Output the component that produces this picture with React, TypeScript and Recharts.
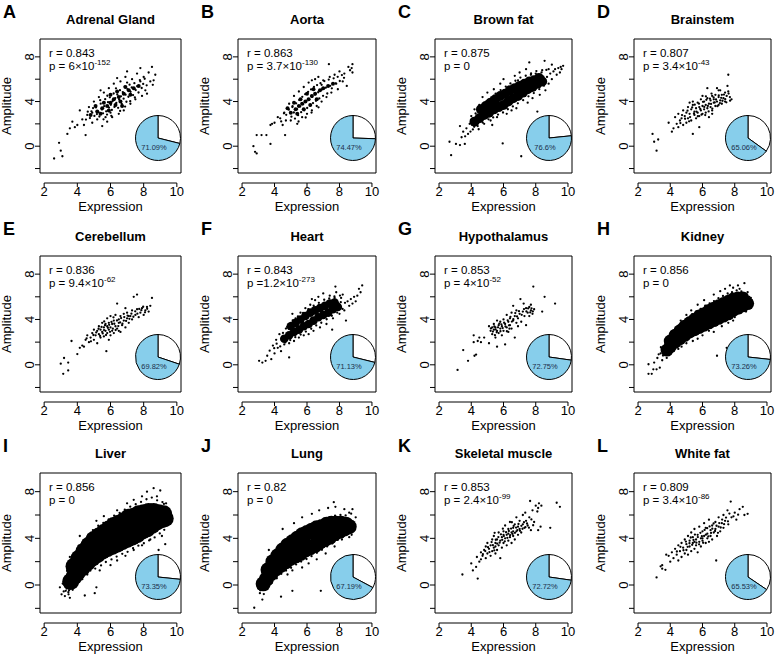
import React from 'react';
import { ScatterChart, Scatter, XAxis, YAxis, ReferenceArea, ReferenceLine, PieChart, Pie, Cell } from 'recharts';

const FONT = '"Liberation Sans", Arial, Helvetica, sans-serif';
const BLUE = '#87CEEB';

// panel texts
const letters = ['A', 'B', 'C', 'D', 'E', 'F', 'G', 'H', 'I', 'J', 'K', 'L'];
const tissues = ['Adrenal Gland', 'Aorta', 'Brown fat', 'Brainstem', 'Cerebellum', 'Heart', 'Hypothalamus', 'Kidney', 'Liver', 'Lung', 'Skeletal muscle', 'White fat'];
const rLabels = ['0.843', '0.863', '0.875', '0.807', '0.836', '0.843', '0.853', '0.856', '0.856', '0.82', '0.853', '0.809'];
const pLabels = ['p = 6×10', 'p = 3.7×10', 'p = 0', 'p = 3.4×10', 'p = 9.4×10', 'p =1.2×10', 'p = 4×10', 'p = 0', 'p = 0', 'p = 0', 'p = 2.4×10', 'p = 3.4×10'];
const pExponents = ['-152', '-130', '', '-43', '-62', '-273', '-52', '', '', '', '-99', '-86'];
const explainedPct = [71.09, 74.47, 76.6, 65.06, 69.82, 71.13, 72.75, 73.26, 73.35, 67.19, 72.72, 65.53];

const xTicks = [2, 4, 6, 8, 10];
const yTicks = [-2, 0, 2, 4, 6, 8];
const yLabelled = [0, 4, 8];

// scatter points [expression, amplitude]
// "mass" arrays stand for the solid, over-plotted centre of the cloud
const adrenalMass = [[4.8,2.8],[5.2,3.1],[5.5,3.4],[5.8,3.6],[6.0,3.9],[6.2,4.2],[6.5,4.4],[6.8,4.7],[7.1,5.0],[7.4,5.2],[5.4,2.9],[5.9,3.2],[6.3,3.7],[6.6,4.0],[5.6,3.9],[6.0,4.6],[6.4,4.9],[6.9,5.3],[7.2,4.6],[5.1,3.6],[7.7,5.4],[6.7,3.6]];
const adrenalDots = [[2.6,-1.1],[2.9,0.3],[3.0,-0.4],[3.1,-0.9],[3.4,1.1],[3.55,1.6],[3.7,2.2],[3.85,1.7],[4.0,1.9],[4.15,3.2],[4.3,2.4],[4.4,1.9],[4.5,1.0],[4.6,2.8],[4.7,3.5],[4.9,2.1],[5.0,4.0],[5.2,2.4],[5.3,4.4],[5.5,1.8],[5.6,4.8],[5.8,2.2],[5.9,5.2],[6.1,2.6],[6.2,5.6],[6.4,6.1],[6.5,2.9],[6.6,5.8],[6.8,3.2],[6.9,6.2],[7.0,6.7],[7.2,3.8],[7.3,6.0],[7.5,4.2],[7.6,6.5],[7.8,7.0],[7.9,4.5],[8.0,6.2],[8.1,5.0],[8.2,4.7],[8.3,6.6],[8.4,5.8],[8.5,7.1],[8.6,5.9],[8.7,6.4],[8.55,5.5],[7.0,5.7],[6.0,3.0],[5.4,5.0],[7.8,5.8],[4.9,3.0],[5.7,2.6],
  [4.85,3.12],[5.03,2.71],[5.12,3.47],[5.27,3.05],[5.33,2.66],[5.41,3.81],[5.48,3.29],[5.55,2.94],[5.62,3.58],[5.68,4.21],[5.74,3.12],[5.79,2.83],[5.85,3.94],[5.91,3.46],[5.96,4.38],[6.02,3.71],[6.08,3.25],[6.13,4.05],[6.19,4.72],[6.24,3.52],[6.29,4.31],[6.35,3.87],[6.41,4.63],[6.46,3.44],[6.52,4.18],[6.57,5.02],[6.63,4.47],[6.68,3.79],[6.74,4.85],[6.79,4.26],[6.85,5.33],[6.91,4.61],[6.96,3.98],[7.02,5.12],[7.08,4.43],[7.15,5.51],[7.21,4.87],[7.28,5.26],[7.36,4.58],[7.44,5.64],[7.52,5.03],[7.61,5.37],[7.69,4.81],[7.77,5.92],[7.88,5.21],[7.97,5.58],[8.06,6.04],[8.18,5.45],[4.52,2.38],[4.63,3.09],[4.76,2.52],[4.95,3.41],[5.18,2.88],[5.38,4.12],[5.58,2.41],[5.81,4.52],[6.05,2.72],[6.33,5.18],[6.58,3.16],[6.88,3.55],[7.19,4.03],[7.47,4.36]];

const aortaMass = [[5.0,3.0],[5.3,3.3],[5.5,3.6],[5.7,3.8],[5.9,4.0],[6.1,4.2],[6.3,4.5],[6.5,4.7],[6.8,5.0],[7.0,5.2],[5.4,2.9],[5.8,3.3],[6.2,3.7],[6.6,4.2],[5.6,4.2],[6.0,4.7],[6.4,5.1],[7.3,5.4],[4.8,3.4],[5.2,3.9],[7.6,5.6]];
const aortaDots = [[2.7,0],[2.8,-0.5],[2.9,-0.65],[2.9,1.0],[3.2,1.0],[3.5,1.0],[3.75,1.9],[3.85,2.0],[3.75,0.2],[4.0,2.1],[4.2,2.6],[4.35,2.5],[4.5,1.9],[4.65,1.0],[4.6,3.0],[4.7,2.3],[4.9,3.8],[5.0,2.3],[5.2,4.5],[5.4,2.0],[5.5,4.9],[5.7,2.6],[5.8,5.3],[6.0,2.9],[6.1,5.7],[6.3,3.2],[6.5,6.0],[6.6,3.6],[6.7,6.2],[6.9,4.0],[7.0,5.9],[7.2,4.4],[7.35,7.35],[7.4,6.2],[7.5,4.8],[7.7,6.4],[7.9,5.1],[8.0,6.7],[8.2,5.8],[8.3,6.5],[8.45,5.4],[8.55,7.1],[8.65,6.8],[8.8,7.35],[8.75,7.0],[8.8,6.6],[6.3,5.9],[7.8,5.6],[5.1,3.5],[6.9,5.5],
  [4.72,2.81],[4.88,3.27],[5.04,2.64],[5.11,3.58],[5.19,3.02],[5.26,2.47],[5.33,3.84],[5.39,3.31],[5.45,2.78],[5.52,4.13],[5.58,3.56],[5.64,3.05],[5.71,4.42],[5.77,3.77],[5.83,3.21],[5.89,4.66],[5.95,3.98],[6.01,3.42],[6.07,4.87],[6.13,4.19],[6.19,3.64],[6.25,5.08],[6.31,4.41],[6.37,3.86],[6.43,5.31],[6.49,4.62],[6.55,4.07],[6.62,5.47],[6.69,4.83],[6.76,4.28],[6.83,5.64],[6.91,5.06],[6.99,4.51],[7.07,5.83],[7.16,5.24],[7.25,4.72],[7.34,5.97],[7.43,5.41],[7.53,5.18],[7.64,6.08],[7.76,5.62],[7.89,6.21],[8.02,5.84],[8.15,6.37],[8.28,6.12],[4.41,2.22],[4.58,2.94],[5.48,2.21],[5.92,2.57],[6.28,3.01],[6.71,3.48]];

const brownFatMass = [[4.2,2.2],[4.5,2.5],[4.8,2.8],[5.1,3.0],[5.4,3.3],[5.7,3.5],[6.0,3.7],[6.3,4.0],[6.6,4.3],[6.9,4.5],[7.2,4.8],[7.5,5.1],[7.8,5.3],[8.1,5.6],[8.4,5.8],[4.6,3.3],[4.9,3.6],[5.2,3.9],[5.5,4.2],[5.8,4.5],[6.1,4.7],[6.4,5.0],[6.7,5.2],[7.0,5.4],[7.3,5.6],[7.6,5.8],[7.9,5.9],[8.2,6.1]];
const brownFatDots = [[2.65,0.4],[2.75,-0.8],[3.05,0.2],[3.3,0.1],[3.6,0.2],[3.3,1.8],[3.4,0.8],[3.5,1.3],[3.7,1.6],[3.9,2.0],[3.8,1.1],[4.0,2.7],[4.1,1.5],[4.2,3.3],[4.4,1.8],[4.5,3.7],[4.7,4.4],[4.8,2.0],[5.0,4.8],[5.2,2.3],[5.4,5.1],[5.6,2.6],[5.8,5.6],[5.95,0.25],[6.0,6.0],[6.2,2.9],[6.5,3.2],[6.7,6.3],[6.8,3.4],[7.0,6.6],[7.1,-0.9],[7.4,6.9],[7.5,3.9],[7.6,7.5],[7.8,4.3],[8.0,6.5],[8.1,3.1],[8.25,4.6],[8.4,6.8],[8.55,7.65],[8.6,5.0],[8.7,6.2],[8.8,6.9],[8.9,6.5],[9.0,7.3],[9.1,6.7],[9.2,6.9],[9.3,6.4],[9.4,7.0],[9.5,6.6],[9.6,6.9],[9.7,7.2],[9.55,7.1],[8.8,5.6],[9.0,6.0],[5.3,1.9],[6.9,5.9],[7.7,6.4],
  [4.05,2.21],[4.18,1.74],[4.27,2.93],[4.36,2.05],[4.62,3.61],[4.71,2.12],[4.93,4.02],[5.07,2.41],[5.24,4.38],[5.36,2.58],[5.51,4.71],[5.66,2.83],[5.82,5.03],[5.97,3.02],[6.14,5.34],[6.27,3.31],[6.43,5.62],[6.58,3.56],[6.74,5.86],[6.89,3.84],[7.05,6.15],[7.22,4.12],[7.38,6.31],[7.55,4.47],[7.71,6.52],[7.88,4.76],[8.04,6.73],[8.22,5.11],[8.36,6.61],[8.51,5.42],[8.66,6.83],[8.47,6.22],[3.95,1.31],[3.62,0.88],[4.46,1.52]];

const brainstemDots = [[2.9,1.1],[3.0,0.4],[3.25,0.6],[3.15,-0.4],[3.9,2.1],[4.1,1.3],[4.2,1.6],[4.3,2.6],[4.4,2.0],[4.5,1.7],[4.5,2.9],[4.6,2.3],[4.7,2.5],[4.8,1.9],[4.8,3.2],[4.9,2.7],[5.0,2.1],[5.0,3.0],[5.1,3.5],[5.1,2.5],[5.2,2.9],[5.3,3.3],[5.3,2.3],[5.4,1.1],[5.4,3.7],[5.5,2.8],[5.5,3.1],[5.6,3.4],[5.6,2.5],[5.7,3.9],[5.7,3.0],[5.8,1.7],[5.8,3.5],[5.8,2.7],[5.9,3.2],[5.9,4.2],[6.0,3.6],[6.0,2.9],[6.1,3.3],[6.1,4.0],[6.2,3.7],[6.2,3.0],[6.3,4.3],[6.3,3.4],[6.4,3.8],[6.4,2.6],[6.5,4.1],[6.5,3.5],[6.6,4.5],[6.6,3.2],[6.7,3.9],[6.7,4.2],[6.8,3.6],[6.8,4.6],[6.9,4.0],[6.9,5.2],[7.0,3.7],[7.0,4.4],[7.1,4.1],[7.1,5.0],[7.2,4.6],[7.2,3.8],[7.3,4.3],[7.4,4.8],[7.4,4.0],[7.5,4.5],[7.55,5.4],[7.6,6.4],[7.7,4.4],[7.8,4.2],[7.6,4.9],[6.3,5.2],[5.4,4.0],[6.0,4.5],[5.2,3.9],[6.6,2.9],[7.0,5.0],
  [4.63,2.07],[4.92,2.46],[5.07,3.18],[5.23,2.61],[5.36,3.47],[5.47,2.93],[5.52,3.72],[5.63,3.09],[5.71,2.68],[5.78,3.81],[5.86,3.33],[5.94,2.82],[6.03,3.97],[6.11,3.52],[6.17,2.79],[6.24,4.15],[6.33,3.61],[6.38,3.11],[6.46,4.26],[6.53,3.79],[6.61,3.37],[6.69,4.37],[6.76,3.92],[6.84,4.18],[6.93,3.58],[7.01,4.56],[7.08,3.86],[7.16,4.33],[7.24,4.07],[7.33,4.62],[7.41,4.21],[7.48,3.93],[7.62,4.71],[7.71,4.08],[5.17,2.23],[4.73,2.79],[6.56,4.71],[6.21,4.47]];

const cerebellumDots = [[3.0,0.1],[3.15,-0.8],[3.2,0.6],[3.45,0.2],[3.45,-0.5],[3.65,2.1],[4.0,0.95],[4.15,1.5],[4.3,1.7],[4.4,1.6],[4.5,2.2],[4.6,2.6],[4.7,2.0],[4.8,2.4],[4.9,2.8],[5.0,2.2],[5.0,3.1],[5.1,2.6],[5.2,1.9],[5.2,3.0],[5.3,2.7],[5.3,3.4],[5.4,2.4],[5.4,3.1],[5.5,2.9],[5.5,3.7],[5.6,2.5],[5.6,3.3],[5.7,3.0],[5.7,3.6],[5.75,1.2],[5.8,2.8],[5.8,3.4],[5.8,4.1],[5.9,3.1],[5.9,3.7],[6.0,2.6],[6.0,3.3],[6.0,4.3],[6.1,3.0],[6.1,3.6],[6.2,3.9],[6.2,2.8],[6.3,3.4],[6.3,4.4],[6.4,5.4],[6.4,3.2],[6.5,3.7],[6.5,4.0],[6.6,2.9],[6.6,4.3],[6.7,3.5],[6.8,3.9],[6.8,4.5],[6.9,3.3],[7.0,4.1],[7.0,4.6],[7.1,3.7],[7.2,4.3],[7.3,4.8],[7.3,4.0],[7.4,6.0],[7.5,4.4],[7.6,6.2],[7.6,4.9],[7.7,4.2],[7.8,4.6],[7.9,5.0],[8.0,4.4],[8.1,4.8],[8.2,5.1],[8.3,4.7],[8.4,5.2],[8.5,5.9],[6.9,5.0],[5.9,2.2],[6.5,3.0],[7.1,4.3],
  [4.56,2.34],[4.82,2.07],[4.97,2.63],[5.14,2.86],[5.28,3.18],[5.37,2.55],[5.46,3.34],[5.53,2.77],[5.61,3.06],[5.67,3.49],[5.73,2.63],[5.84,3.27],[5.92,3.53],[5.97,2.91],[6.06,3.78],[6.14,3.19],[6.23,3.62],[6.31,3.07],[6.39,3.91],[6.47,3.42],[6.58,3.74],[6.64,4.12],[6.72,3.63],[6.83,4.21],[6.94,3.87],[7.03,4.34],[7.14,4.06],[7.26,4.51],[7.38,4.24],[7.49,4.72],[7.62,4.51],[7.73,4.93],[7.86,4.82],[7.97,5.12],[8.08,4.63],[8.21,4.94],[6.18,4.19],[5.62,3.83]];

const heartMass = [[4.6,2.3],[4.9,2.6],[5.2,2.9],[5.5,3.1],[5.8,3.4],[6.1,3.6],[6.4,3.9],[6.7,4.2],[7.0,4.4],[7.3,4.6],[7.6,4.9],[7.9,5.1],[5.0,3.4],[5.3,3.7],[5.6,4.0],[5.9,4.3],[6.2,4.6],[6.5,4.8],[6.8,5.0],[7.1,5.2],[7.4,5.4],[7.7,5.5]];
const heartDots = [[3.05,0.35],[3.25,0.2],[3.45,0.35],[3.55,0.8],[3.7,1.25],[3.8,0.5],[3.9,1.7],[4.0,1.0],[4.1,2.2],[4.2,1.5],[4.3,2.7],[4.4,1.2],[4.6,1.8],[4.7,3.2],[4.9,0.65],[4.9,1.9],[5.0,3.7],[5.2,2.1],[5.3,4.1],[5.5,2.4],[5.6,4.6],[5.8,2.6],[5.9,5.0],[6.1,2.7],[6.2,5.3],[6.4,3.0],[6.5,5.7],[6.7,6.0],[6.8,3.3],[7.0,6.3],[7.2,3.6],[7.4,6.1],[7.55,3.1],[7.6,4.1],[7.75,6.9],[7.8,6.4],[8.0,4.5],[8.1,5.9],[8.2,6.2],[8.3,4.8],[8.4,3.9],[8.5,5.6],[8.6,5.2],[8.7,5.8],[8.8,5.4],[8.9,6.0],[9.0,5.6],[9.1,6.1],[9.2,6.7],[9.3,6.4],[9.4,7.0],[8.0,5.2],[7.7,5.9],[6.3,5.8],[5.1,4.5],
  [4.35,1.62],[4.52,2.81],[4.66,1.97],[4.78,3.33],[4.97,2.18],[5.12,3.92],[5.28,2.44],[5.44,4.27],[5.61,2.67],[5.76,4.58],[5.93,2.93],[6.08,4.91],[6.26,3.18],[6.41,5.21],[6.57,3.47],[6.73,5.47],[6.88,3.71],[7.06,5.74],[7.21,4.02],[7.37,5.86],[7.53,4.33],[7.69,6.03],[7.86,4.61],[8.03,6.11],[8.19,4.93],[8.34,5.47],[8.08,5.53],[7.93,5.42],[3.98,1.47],[4.13,1.86]];

const hypothalamusDots = [[3.15,-0.45],[3.5,1.3],[3.8,0.35],[4.2,0.8],[4.3,0.9],[4.15,2.0],[4.15,2.6],[4.4,2.1],[4.6,2.0],[4.5,2.4],[4.8,2.4],[5.1,1.9],[5.1,3.4],[5.2,3.0],[5.3,3.3],[5.3,2.7],[5.4,3.6],[5.4,3.1],[5.5,2.4],[5.5,3.3],[5.6,1.6],[5.6,3.0],[5.7,3.5],[5.7,2.8],[5.8,3.2],[5.8,3.8],[5.9,2.6],[5.9,3.4],[6.0,3.0],[6.0,4.0],[6.1,3.6],[6.1,1.8],[6.2,3.3],[6.2,4.4],[6.3,3.8],[6.3,2.9],[6.4,3.5],[6.4,4.1],[6.5,3.2],[6.5,4.6],[6.6,3.9],[6.7,4.3],[6.7,2.4],[6.8,3.7],[6.8,4.8],[6.9,4.1],[7.0,4.5],[7.05,5.8],[7.1,3.8],[7.2,4.7],[7.25,5.4],[7.3,4.3],[7.4,5.0],[7.4,3.5],[7.5,4.6],[7.6,5.1],[7.6,4.3],[7.7,4.8],[7.7,5.3],[7.8,4.5],[7.85,6.9],[7.9,4.9],[8.4,4.7],[8.55,6.0],[9.2,5.4],[6.6,5.2],[5.6,3.9],[6.9,3.4],
  [5.22,3.21],[5.34,2.93],[5.43,3.38],[5.51,3.12],[5.58,2.87],[5.66,3.31],[5.74,3.64],[5.81,2.96],[5.87,3.57],[5.95,3.24],[6.04,3.71],[6.12,3.38],[6.21,2.96],[6.26,3.92],[6.34,3.48],[6.43,4.23],[6.52,3.81],[6.61,4.02],[6.73,4.56],[6.84,4.27],[6.96,4.73],[7.13,4.41],[7.27,4.92],[7.42,4.71],[7.53,4.97],[7.66,4.62],[7.74,4.98],[7.82,4.71],[5.47,2.61],[6.37,3.19]];

const kidneyMass = [[3.8,1.3],[4.0,1.6],[4.3,2.0],[4.6,2.3],[4.9,2.6],[5.2,2.9],[5.5,3.1],[5.8,3.3],[6.1,3.5],[6.4,3.7],[6.7,3.9],[7.0,4.1],[7.3,4.3],[7.6,4.5],[7.9,4.8],[8.2,5.0],[8.5,5.2],[8.8,5.4],[4.0,2.1],[4.3,2.6],[4.6,3.0],[4.9,3.4],[5.2,3.7],[5.5,4.0],[5.8,4.3],[6.1,4.5],[6.4,4.8],[6.7,5.0],[7.0,5.2],[7.3,5.4],[7.6,5.6],[7.9,5.8],[8.2,5.9],[8.5,5.9]];
const kidneyDots = [[2.65,-0.8],[2.85,-0.8],[2.95,-0.4],[3.15,-0.4],[3.35,-0.25],[2.65,0.05],[3.0,0.2],[3.2,0.6],[3.4,1.0],[3.5,0.4],[3.6,1.4],[3.7,1.9],[3.85,2.0],[3.9,0.9],[4.1,2.6],[4.2,1.2],[4.4,3.3],[4.5,1.4],[4.65,3.9],[4.7,1.6],[5.0,4.4],[5.0,1.9],[5.3,4.8],[5.4,2.1],[5.7,5.3],[5.7,2.3],[6.1,5.7],[6.0,2.6],[6.4,3.0],[6.7,6.2],[6.7,2.9],[6.9,0.8],[7.1,6.5],[7.2,3.4],[7.5,1.5],[7.6,3.7],[7.7,7.0],[7.9,6.8],[8.0,4.2],[8.2,7.0],[8.4,4.6],[8.6,7.2],[8.6,5.0],[8.8,6.4],[8.9,6.0],[9.0,5.9],[8.8,5.3],[8.3,6.7],[7.4,6.7],[7.9,3.9],[8.7,4.7],
  [3.55,0.82],[3.62,1.58],[3.78,0.61],[3.84,2.31],[3.97,1.12],[4.08,2.92],[4.23,1.36],[4.31,3.18],[4.47,1.73],[4.56,3.51],[4.72,2.02],[4.83,3.82],[4.96,2.21],[5.09,4.13],[5.22,2.47],[5.36,4.46],[5.48,2.69],[5.61,4.72],[5.74,2.86],[5.88,4.94],[6.02,3.08],[6.17,5.23],[6.29,3.27],[6.44,5.41],[6.58,3.46],[6.71,5.62],[6.86,3.64],[6.99,5.88],[7.13,3.83],[7.27,6.07],[7.41,4.05],[7.56,6.29],[7.68,4.27],[7.83,6.41],[7.97,4.49],[8.12,6.56],[8.26,4.73],[8.41,6.48],[8.55,4.95],[8.69,5.72],[8.92,5.58],[9.05,5.71],[3.42,1.55],[3.28,0.92]];

const liverMass = [[3.6,0.3],[3.8,0.7],[4.0,1.1],[4.3,1.5],[4.6,1.9],[4.9,2.3],[5.2,2.6],[5.5,2.9],[5.8,3.1],[6.1,3.3],[6.4,3.5],[6.7,3.7],[7.0,3.9],[7.3,4.1],[7.6,4.3],[7.9,4.6],[8.2,4.8],[8.5,5.1],[8.8,5.4],[9.1,5.6],[9.3,5.7],[3.8,1.6],[4.1,2.3],[4.4,2.9],[4.7,3.4],[5.0,3.9],[5.3,4.2],[5.6,4.5],[5.9,4.8],[6.2,5.1],[6.5,5.3],[6.8,5.5],[7.1,5.8],[7.4,5.9],[7.7,6.1],[8.0,6.2],[8.3,6.3],[8.6,6.3],[8.9,6.2],[9.2,6.1],[3.9,1.4],[4.5,2.4],[5.2,3.3],[5.9,4.0],[6.6,4.6],[7.3,5.0],[8.0,5.4],[8.7,5.8],[9.2,5.9]];
const liverDots = [[2.95,-0.2],[3.05,-0.8],[3.25,-0.95],[3.55,-1.1],[3.2,0.5],[3.3,-0.5],[3.55,2.4],[3.7,1.9],[4.15,4.2],[4.3,0.5],[4.35,0.7],[4.45,-0.9],[4.6,0.9],[5.05,-0.7],[5.15,-0.2],[5.15,5.5],[5.35,1.25],[5.6,5.9],[6.0,1.7],[6.4,6.4],[6.4,2.1],[6.9,2.5],[7.0,7.0],[7.4,7.3],[7.4,3.0],[7.9,3.4],[7.9,7.6],[8.2,8.0],[8.4,3.9],[8.6,8.3],[8.8,7.6],[9.0,8.1],[9.1,4.2],[9.3,3.5],[9.4,6.6],[9.4,5.1],[9.5,5.8],[9.35,7.0],[8.9,3.0],[9.0,1.7],
  [3.12,0.12],[3.38,1.21],[3.46,-0.62],[3.61,1.95],[3.72,-0.41],[3.89,2.71],[3.96,0.18],[4.09,3.38],[4.21,0.49],[4.38,3.82],[4.51,0.92],[4.67,4.29],[4.79,1.24],[4.94,4.71],[5.08,1.41],[5.26,5.08],[5.43,1.68],[5.57,5.33],[5.72,1.97],[5.89,5.62],[6.06,2.19],[6.22,5.94],[6.37,2.44],[6.55,6.18],[6.71,2.67],[6.86,6.46],[7.03,2.84],[7.19,6.71],[7.36,3.16],[7.52,6.93],[7.68,3.37],[7.84,7.12],[8.01,3.58],[8.17,7.35],[8.33,3.82],[8.49,7.49],[8.66,4.08],[8.81,7.26],[8.97,4.42],[9.13,7.11],[9.24,4.73],[9.41,6.18],[9.48,5.45],[9.22,6.95],
  [3.35,-0.3],[3.42,0.05],[3.28,-0.15],[3.5,-0.45],[3.38,0.35],[3.6,-0.2],[3.47,-0.8],[3.18,-0.55],[3.52,0.22],[3.66,0.08]];

const lungMass = [[3.3,0.1],[3.5,0.5],[3.8,1.0],[4.1,1.4],[4.4,1.7],[4.7,2.0],[5.0,2.3],[5.3,2.5],[5.6,2.7],[5.9,3.0],[6.2,3.2],[6.5,3.4],[6.8,3.7],[7.1,3.9],[7.4,4.1],[7.7,4.4],[8.0,4.6],[8.3,4.8],[8.6,5.0],[3.6,1.3],[3.9,2.0],[4.2,2.5],[4.5,3.0],[4.8,3.4],[5.1,3.7],[5.4,4.0],[5.7,4.3],[6.0,4.5],[6.3,4.7],[6.6,4.9],[6.9,5.0],[7.2,5.2],[7.5,5.3],[7.8,5.3],[8.1,5.3],[8.4,5.2],
  [4.3,2.2],[5.0,3.0],[5.8,3.6],[6.6,4.2],[7.4,4.7],[8.2,5.0]];
const lungDots = [[2.75,-1.95],[3.0,-0.3],[3.1,-0.7],[3.25,-1.25],[3.2,0.6],[3.4,-0.4],[3.65,3.0],[3.6,-0.1],[4.1,0.7],[4.4,-1.0],[4.5,4.8],[4.8,0.9],[5.1,1.25],[5.1,-0.5],[5.2,5.3],[5.7,5.8],[5.7,1.5],[6.1,1.85],[6.3,6.1],[6.75,6.4],[6.6,2.2],[6.85,-0.5],[7.15,2.7],[7.3,6.6],[7.65,7.1],[7.75,6.7],[7.7,3.3],[8.15,3.9],[8.3,6.5],[8.6,4.1],[8.75,4.3],[8.8,6.5],[9.0,5.8],[8.9,5.2],[8.6,6.2],
  [3.05,-0.12],[3.16,0.34],[3.34,-0.78],[3.42,1.02],[3.55,-0.36],[3.71,1.78],[3.83,0.18],[3.97,2.44],[4.14,0.58],[4.27,3.07],[4.42,0.96],[4.56,3.51],[4.71,1.24],[4.86,3.88],[5.02,1.47],[5.18,4.23],[5.33,1.76],[5.49,4.54],[5.64,2.01],[5.81,4.82],[5.97,2.23],[6.12,5.13],[6.28,2.47],[6.44,5.34],[6.61,2.76],[6.77,5.52],[6.92,3.02],[7.09,5.67],[7.24,3.31],[7.41,5.82],[7.57,3.58],[7.73,5.94],[7.89,3.86],[8.06,6.01],[8.22,4.14],[8.38,5.96],[8.53,4.52],[8.67,5.61],[8.84,5.42],[8.72,6.11],
  [3.12,-0.45],[3.22,-0.05],[3.28,0.28],[3.15,-0.28]];

const skeletalDots = [[3.45,0.9],[4.0,1.85],[4.1,1.25],[4.3,1.55],[4.35,2.4],[4.4,0.55],[4.5,2.0],[4.6,2.2],[4.6,2.8],[4.7,2.5],[4.8,3.0],[4.9,2.3],[4.9,3.3],[5.0,2.7],[5.0,3.6],[5.1,3.1],[5.2,2.5],[5.2,3.4],[5.3,3.9],[5.3,2.9],[5.4,3.2],[5.4,4.2],[5.5,3.6],[5.5,2.7],[5.6,3.0],[5.6,3.9],[5.7,4.5],[5.7,3.4],[5.8,2.3],[5.8,3.8],[5.9,4.1],[5.9,3.2],[6.0,4.6],[6.0,3.6],[6.1,4.0],[6.1,5.1],[6.2,3.4],[6.2,4.3],[6.3,4.8],[6.3,3.8],[6.4,4.1],[6.4,5.4],[6.5,4.5],[6.5,3.6],[6.6,4.9],[6.6,4.2],[6.7,3.9],[6.7,5.2],[6.8,4.6],[6.8,5.8],[6.9,4.3],[6.9,5.0],[7.0,4.8],[7.0,5.5],[7.1,4.5],[7.2,5.2],[7.2,6.0],[7.3,4.9],[7.35,6.2],[7.4,5.5],[7.5,5.1],[7.6,5.8],[7.65,7.2],[7.7,4.7],[7.8,6.4],[7.9,5.4],[8.0,6.8],[8.1,6.3],[8.15,6.6],[8.15,4.7],[8.2,7.0],[8.35,6.8],[8.3,5.0],[8.9,4.9],[9.3,7.05],[9.5,6.7],[6.0,4.3],[6.3,4.4],[5.5,3.3],[6.6,4.6],
  [4.72,2.64],[4.87,2.91],[5.04,3.24],[5.13,2.82],[5.26,3.68],[5.34,3.41],[5.43,2.97],[5.52,3.88],[5.61,3.54],[5.68,4.11],[5.76,3.63],[5.84,4.34],[5.92,3.87],[6.02,4.19],[6.08,3.74],[6.16,4.52],[6.24,4.04],[6.33,4.63],[6.41,4.27],[6.47,4.84],[6.56,4.38],[6.63,5.06],[6.71,4.47],[6.78,4.92],[6.86,4.71],[6.93,5.23],[7.02,4.64],[7.11,5.07],[7.18,4.82],[7.27,5.38],[7.36,4.96],[7.46,5.27],[7.58,4.91],[7.73,5.62],[7.84,5.12],[5.96,4.83],[6.52,5.38],[5.45,4.47]];

const whiteFatDots = [[3.15,0.65],[3.4,1.6],[3.5,1.7],[3.5,1.4],[3.7,1.3],[3.75,2.6],[3.9,2.5],[4.0,2.0],[4.1,2.8],[4.2,2.3],[4.3,3.1],[4.4,2.6],[4.5,3.4],[4.5,2.1],[4.6,2.9],[4.7,3.6],[4.7,2.4],[4.8,3.2],[4.9,2.7],[4.9,3.9],[5.0,3.0],[5.0,3.5],[5.1,4.2],[5.1,2.6],[5.2,3.3],[5.2,3.8],[5.3,4.5],[5.3,2.9],[5.4,3.6],[5.4,4.1],[5.5,3.1],[5.5,4.8],[5.6,3.9],[5.6,3.4],[5.7,4.3],[5.7,2.8],[5.8,3.7],[5.8,5.0],[5.9,4.0],[5.9,3.3],[6.0,4.6],[6.0,3.8],[6.1,4.2],[6.1,5.3],[6.2,3.6],[6.2,4.9],[6.3,4.4],[6.3,4.0],[6.4,5.6],[6.4,3.7],[6.5,4.7],[6.5,4.2],[6.6,5.1],[6.6,3.9],[6.7,4.5],[6.8,5.4],[6.8,4.8],[6.85,2.1],[6.9,4.2],[7.0,5.0],[7.0,5.8],[7.1,4.6],[7.2,5.3],[7.3,6.0],[7.3,4.9],[7.4,5.5],[7.55,6.4],[7.6,5.2],[7.75,7.15],[7.8,5.8],[8.0,6.2],[8.1,5.6],[8.3,6.5],[8.5,6.7],[8.6,6.0],[8.8,6.1],[6.0,4.0],[5.5,3.7],
  [4.41,2.87],[4.63,3.27],[4.82,2.98],[4.97,3.72],[5.08,3.27],[5.19,3.58],[5.27,4.07],[5.36,3.44],[5.44,3.86],[5.53,4.32],[5.62,3.63],[5.71,4.11],[5.79,3.49],[5.87,4.47],[5.96,4.18],[6.04,3.62],[6.13,4.72],[6.21,4.31],[6.29,4.87],[6.36,4.16],[6.44,5.02],[6.53,4.46],[6.61,4.83],[6.69,5.27],[6.78,4.63],[6.87,5.08],[6.96,4.47],[7.04,5.31],[7.13,4.93],[7.22,5.61],[7.34,5.21],[7.46,5.78],[7.58,5.46],[7.67,6.12],[7.92,5.89],[8.21,6.03]];

const panelDots = [adrenalDots, aortaDots, brownFatDots, brainstemDots, cerebellumDots, heartDots, hypothalamusDots, kidneyDots, liverDots, lungDots, skeletalDots, whiteFatDots];
const panelMass = [adrenalMass, aortaMass, brownFatMass, [], [], heartMass, [], kidneyMass, liverMass, lungMass, [], []];
const massRadius = [2, 2, 5, 0, 0, 4.3, 0, 6.5, 8.5, 7.5, 0, 0];

// layout of the plot boxes
const colBoxLeft = [40, 238, 435, 634];
const colBoxWidth = [141, 138, 137, 137];
const rowBoxTop = [39, 256, 473];
const rowBoxHeight = [134, 136, 140];
const X_DOMAIN = [1.75, 10.25];
const Y_DOMAIN = [-2.4, 9.6];

const toXY = (pts) => pts.map(([x, y]) => ({ x, y }));

const XTick = ({ x, y, payload }) => (
  <g>
    <line x1={x} x2={x} y1={y + 10} y2={y + 14} stroke="#000" />
    <text x={x} y={y + 23} textAnchor="middle" fontSize={13} fontFamily={FONT} fill="#000">{payload.value}</text>
  </g>
);

const YTick = ({ x, y, payload }) =>
  yLabelled.includes(payload.value) ? (
    <text x={x - 1} y={y} transform={`rotate(-90 ${x - 1} ${y})`} textAnchor="middle" fontSize={13} fontFamily={FONT} fill="#000">{payload.value}</text>
  ) : null;

function Panel({ i }) {
  const col = i % 4;
  const row = Math.floor(i / 4);
  const boxL = colBoxLeft[col];
  const boxW = colBoxWidth[col];
  const boxT = rowBoxTop[row];
  const boxH = rowBoxHeight[row];
  const ML = 40, MT = 40, MB = 46, MR = 12;
  const pieCx = boxL + boxW - 23;
  const pieCy = boxT + boxH * 0.74;
  const pct = explainedPct[i];
  const pieData = [{ name: 'other', value: 100 - pct }, { name: 'explained', value: pct }];
  const r = massRadius[i];

  return (
    <>
      <div style={{ position: 'absolute', left: boxL - 37, top: boxT - 36, fontSize: 18, fontWeight: 'bold', lineHeight: '18px' }}>{letters[i]}</div>
      <div style={{ position: 'absolute', left: boxL, width: boxW, top: boxT - 26, textAlign: 'center', fontSize: 13, fontWeight: 'bold', lineHeight: '14px' }}>{tissues[i]}</div>
      <div style={{ position: 'absolute', left: boxL - ML, top: boxT - MT }}>
        <ScatterChart width={ML + boxW + MR} height={MT + boxH + MB} margin={{ top: MT, right: MR, bottom: 0, left: 10 }}>
          <XAxis dataKey="x" type="number" domain={X_DOMAIN} allowDataOverflow ticks={xTicks} interval={0}
            tickSize={0} tickMargin={0} axisLine={false} tickLine={false} tick={<XTick />} height={MB}
            label={(props) => {
              const vb = props.viewBox;
              return <text x={vb.x + vb.width / 2} y={vb.y + 38} textAnchor="middle" fontSize={13} fontFamily={FONT} fill="#000">Expression</text>;
            }} />
          <YAxis dataKey="y" type="number" domain={Y_DOMAIN} allowDataOverflow ticks={yTicks} interval={0}
            width={30} tickSize={5} tickMargin={0} axisLine={false} tickLine={{ stroke: '#000' }} tick={<YTick />}
            label={(props) => {
              const vb = props.viewBox;
              const cx = vb.x + 1;
              const cy = vb.y + vb.height / 2;
              return <text x={cx} y={cy} transform={`rotate(-90 ${cx} ${cy})`} textAnchor="middle" fontSize={13} fontFamily={FONT} fill="#000">Amplitude</text>;
            }} />
          <ReferenceArea x1={X_DOMAIN[0]} x2={X_DOMAIN[1]} y1={Y_DOMAIN[0]} y2={Y_DOMAIN[1]} fill="none" stroke="#000" strokeWidth={1} ifOverflow="visible" />
          <ReferenceLine segment={[{ x: 2, y: Y_DOMAIN[0] }, { x: 10, y: Y_DOMAIN[0] }]} ifOverflow="visible"
            shape={(p) => <line x1={p.x1} y1={p.y1 + 10} x2={p.x2} y2={p.y2 + 10} stroke="#000" strokeWidth={1} />} />
          {r > 0 && (
            <Scatter data={toXY(panelMass[i])} isAnimationActive={false}
              shape={(p) => <circle cx={p.cx} cy={p.cy} r={r} fill="#000" />} />
          )}
          <Scatter data={toXY(panelDots[i])} isAnimationActive={false}
            shape={(p) => <circle cx={p.cx} cy={p.cy} r={1.15} fill="#000" />} />
        </ScatterChart>
      </div>
      <div style={{ position: 'absolute', left: boxL + 9, top: boxT + 8, fontSize: 11.5, lineHeight: '13px', whiteSpace: 'nowrap' }}>
        <div>r = {rLabels[i]}</div>
        <div>
          {pLabels[i]}
          {pExponents[i] && <span style={{ fontSize: 8, position: 'relative', top: -5 }}>{pExponents[i]}</span>}
        </div>
      </div>
      <div style={{ position: 'absolute', left: pieCx - 25, top: pieCy - 25 }}>
        <PieChart width={50} height={50} margin={{ top: 0, right: 0, bottom: 0, left: 0 }}>
          <Pie data={pieData} dataKey="value" cx={25} cy={25} outerRadius={22.5} startAngle={90} endAngle={-270}
            stroke="#000" strokeWidth={1} isAnimationActive={false} labelLine={false}
            label={(p) => p.index === 1 ? (
              <text x={p.cx - 4} y={p.cy + 12} textAnchor="middle" fontSize={7.5} fontFamily={FONT} fill="#1c2f4a">{pct}%</text>
            ) : null}>
            <Cell fill="#fff" />
            <Cell fill={BLUE} />
          </Pie>
        </PieChart>
      </div>
    </>
  );
}

export default function App() {
  return (
    <div style={{ position: 'absolute', left: 0, top: 0, width: 778, height: 654, background: '#fff', fontFamily: FONT, color: '#000', overflow: 'hidden' }}>
      {letters.map((_, i) => <Panel key={i} i={i} />)}
    </div>
  );
}
